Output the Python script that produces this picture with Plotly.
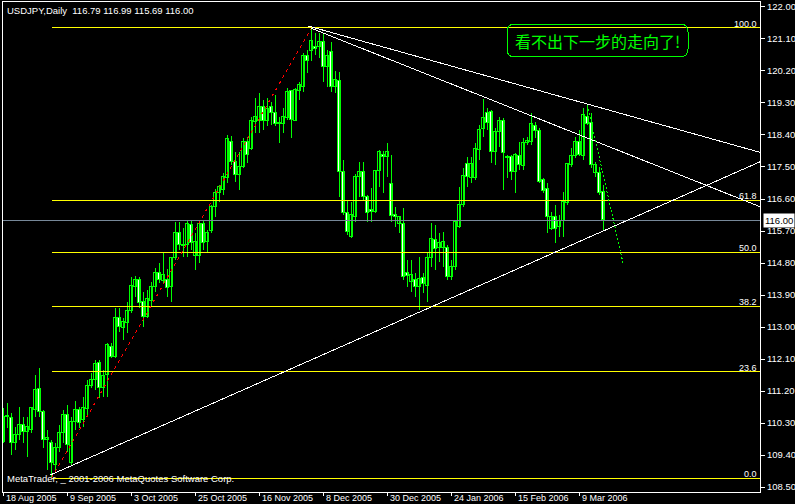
import plotly.graph_objects as go

# ---------------- data ----------------
bar_index = list(range(151))
opens = [109.77,110.47,110.44,109.74,109.96,110.24,110.05,110.10,110.67,111.26,
         110.61,109.82,109.74,109.12,109.60,110.02,110.53,109.18,110.33,110.67,
         110.39,110.69,111.34,111.51,111.99,111.29,111.65,112.44,112.16,113.25,
         112.97,113.11,113.45,114.13,114.32,113.70,113.28,113.73,114.13,114.52,
         114.30,114.32,114.13,114.94,115.64,115.31,115.31,115.87,115.00,115.00,
         115.90,115.39,115.70,116.38,116.77,116.86,117.19,118.20,117.64,117.28,
         117.50,118.20,118.01,118.77,118.79,119.19,118.79,119.19,119.02,118.71,
         118.71,118.88,119.64,118.79,119.64,119.75,120.62,120.76,120.88,120.88,
         121.02,120.31,120.73,119.75,119.92,117.36,116.21,115.53,116.10,117.22,
         117.36,116.66,116.29,116.24,117.39,117.84,117.78,117.02,116.15,115.90,
         115.90,114.52,114.27,114.32,114.13,114.38,114.15,114.94,115.45,115.22,
         115.22,115.22,114.41,114.69,115.81,116.43,117.59,117.19,117.19,117.98,
         118.57,119.02,119.05,117.92,118.49,118.79,117.78,117.78,117.36,117.81,
         117.53,118.18,118.20,118.65,118.51,117.14,116.88,115.76,116.10,115.81,
         115.98,116.49,117.56,117.81,118.20,117.81,118.91,118.74,117.33,117.33,
         116.79]
highs = [110.72,110.86,110.58,110.19,110.75,110.47,110.47,110.75,111.65,111.85,
         110.67,110.10,109.82,109.74,110.24,110.67,110.81,110.47,110.91,110.75,
         111.03,111.51,111.71,112.07,112.07,111.79,112.55,112.55,113.53,113.53,
         113.25,113.70,114.41,114.44,114.41,113.99,114.04,114.27,114.66,114.80,
         115.08,114.63,114.97,115.95,115.95,115.79,115.98,115.98,115.64,115.95,
         115.98,115.73,116.43,116.88,117.00,117.33,118.40,118.37,117.92,117.92,
         118.32,118.34,118.91,119.44,119.58,119.38,119.44,119.33,119.53,118.91,
         119.16,119.72,119.67,119.72,119.89,120.71,120.79,121.41,121.27,121.27,
         121.27,120.79,121.02,120.20,120.17,117.70,116.57,116.52,117.30,117.64,
         117.64,116.71,116.91,117.42,117.98,117.95,118.18,117.84,116.38,116.12,
         116.35,114.89,114.89,114.52,114.97,114.52,115.08,115.93,115.87,115.64,
         115.67,115.31,114.89,116.01,116.94,117.47,117.78,117.78,118.18,118.68,
         119.41,119.16,119.10,118.60,118.91,118.88,117.84,117.84,117.89,118.20,
         118.32,118.34,119.02,118.77,118.60,117.19,117.05,116.24,116.43,116.15,
         116.80,117.61,118.04,118.34,118.54,119.16,119.24,119.02,117.64,117.50,
         116.99]
lows = [109.74,110.16,109.40,109.54,109.82,109.74,109.35,110.02,110.47,110.47,
        109.60,108.98,108.75,108.98,109.49,109.74,109.49,109.12,110.10,110.16,
        110.19,110.47,111.29,111.23,111.00,111.03,111.03,112.13,112.13,112.86,
        112.64,112.83,113.39,113.85,113.53,113.00,113.25,113.56,113.99,114.24,
        114.24,113.85,113.70,114.89,115.17,114.97,114.97,115.17,114.60,114.80,
        115.17,115.08,115.64,116.10,116.52,116.71,117.05,117.56,117.08,116.85,
        117.47,117.61,117.98,118.46,118.46,118.54,118.65,118.68,118.65,118.18,
        118.46,118.82,118.32,118.79,119.38,119.61,120.14,120.48,120.65,120.57,
        119.89,119.75,119.61,119.58,116.66,116.15,115.59,115.50,115.95,116.66,
        116.57,115.95,115.95,116.21,116.94,116.77,117.22,115.95,115.81,115.64,
        114.32,114.13,113.99,113.85,113.48,113.96,113.70,114.69,114.60,114.83,
        114.69,114.32,114.32,114.60,115.79,116.38,116.94,117.05,117.14,117.70,
        118.35,118.54,117.61,117.56,118.06,116.85,117.19,117.14,116.77,117.42,
        117.42,118.12,118.12,118.32,117.05,116.77,115.64,115.73,115.36,115.53,
        115.53,116.43,117.50,117.75,117.80,117.70,118.68,117.47,117.22,116.71,
        115.69]
closes = [110.47,110.50,109.74,109.96,110.24,110.05,110.19,110.72,111.23,110.61,
          109.82,109.88,109.18,109.60,110.02,110.53,109.68,110.33,110.67,110.30,
          110.72,111.34,111.51,111.96,111.29,111.62,112.49,112.16,113.25,113.00,
          113.14,113.45,114.15,114.32,113.68,113.28,113.79,114.13,114.52,114.32,
          114.46,114.10,114.94,115.64,115.31,115.28,115.90,115.36,115.39,115.90,
          115.36,115.64,116.38,116.77,116.94,117.22,118.29,117.64,117.28,117.50,
          118.20,117.84,118.79,118.91,119.19,118.79,119.13,119.02,118.71,118.74,
          118.91,119.61,118.82,119.67,119.81,120.62,120.48,121.04,120.82,121.02,
          120.31,120.62,119.75,119.95,117.36,116.21,115.67,116.15,117.22,117.36,
          116.66,116.21,116.24,117.39,117.92,117.78,117.92,116.12,116.10,116.10,
          114.41,114.44,114.46,114.13,114.35,114.21,114.94,115.48,115.20,115.36,
          115.39,114.41,114.69,115.95,116.43,117.25,117.22,117.59,118.01,118.54,
          118.88,118.74,117.92,118.49,118.79,117.89,117.75,117.36,117.84,117.56,
          118.18,118.23,118.71,118.51,117.08,116.83,116.10,116.10,115.76,115.98,
          116.52,117.59,117.81,118.20,117.84,118.96,118.71,117.56,117.56,116.77,
          116.00]

date_tick_index = [0, 16, 32, 48, 64, 80, 96, 112, 128, 144]
date_tick_labels = ["18 Aug 2005", "9 Sep 2005", "3 Oct 2005", "25 Oct 2005",
                    "16 Nov 2005", "8 Dec 2005", "30 Dec 2005", "24 Jan 2006",
                    "15 Feb 2006", "9 Mar 2006"]
price_ticks = [122.00, 121.10, 120.20, 119.30, 118.40, 117.50, 116.60, 115.70,
               114.80, 113.90, 113.00, 112.10, 111.20, 110.30, 109.40, 108.50]

fib_start_index = 12
fib_labels = ["100.0", "61.8", "50.0", "38.2", "23.6", "0.0"]
fib_prices = [121.41, 116.57, 115.10, 113.59, 111.74, 108.75]

bid_price = 116.00

# drawn objects: (bar index, price) anchor pairs
fib_diag_x = [12, 77]
fib_diag_y = [108.75, 121.41]
trend_upper_x = [76, 189.2]
trend_upper_y = [121.47, 117.91]
trend_mid_x = [76.75, 189.2]
trend_mid_y = [121.41, 116.38]
trend_support_x = [11.75, 189.2]
trend_support_y = [108.84, 117.65]
projection_x = [146, 155]
projection_y = [119.24, 114.74]

title_text = "USDJPY,Daily  116.79 116.99 115.69 116.00"
copyright_text = "MetaTrader, _ 2001-2006 MetaQuotes Software Corp."
callout_text = "看不出下一步的走向了!"

X_RANGE = [-0.125, 189.125]
Y_RANGE = [108.36, 122.14]
LIME = "#00FF00"
FONT = "Liberation Sans"

# ---------------- figure ----------------
fig = go.Figure()

# wicks
wx, wy = [], []
for i, h, l in zip(bar_index, highs, lows):
    wx += [i, i, None]
    wy += [l, h, None]
fig.add_trace(go.Scatter(x=wx, y=wy, mode="lines",
                         line=dict(color=LIME, width=1), hoverinfo="skip"))

# bodies
base = [min(o, c) for o, c in zip(opens, closes)]
height = [max(abs(c - o), 0.02) for o, c in zip(opens, closes)]
fill = ["#000000" if c >= o else "#FFFFFF" for o, c in zip(opens, closes)]
fig.add_trace(go.Bar(x=bar_index, y=height, base=base, width=0.7,
                     marker=dict(color=fill, line=dict(color=LIME, width=1)),
                     hoverinfo="skip"))

# bid line
fig.add_trace(go.Scatter(x=X_RANGE, y=[bid_price, bid_price], mode="lines",
                         line=dict(color="#778899", width=1), hoverinfo="skip"))

# fib levels
for lvl in fib_prices:
    fig.add_trace(go.Scatter(x=[fib_start_index, X_RANGE[1]], y=[lvl, lvl],
                             mode="lines", line=dict(color="#FFFF00", width=1),
                             hoverinfo="skip"))
fig.add_trace(go.Scatter(x=fib_diag_x, y=fib_diag_y, mode="lines",
                         line=dict(color="#FF0000", width=1, dash="3px,4px"),
                         hoverinfo="skip"))

# trend lines
for tx, ty in [(trend_upper_x, trend_upper_y), (trend_mid_x, trend_mid_y),
               (trend_support_x, trend_support_y)]:
    fig.add_trace(go.Scatter(x=tx, y=ty, mode="lines",
                             line=dict(color="#FFFFFF", width=1), hoverinfo="skip"))
fig.add_trace(go.Scatter(x=projection_x, y=projection_y, mode="lines",
                         line=dict(color=LIME, width=1, dash="2px,2px"),
                         hoverinfo="skip"))

annotations = []
for lab, lvl in zip(fib_labels, fib_prices):
    annotations.append(dict(x=X_RANGE[1], y=lvl, xref="x", yref="y", text=lab,
                            showarrow=False, xanchor="right", yanchor="bottom",
                            xshift=-2, yshift=-2, borderpad=0,
                            font=dict(family=FONT, size=9, color="#FFFFFF")))
for idx, lab in zip(date_tick_index, date_tick_labels):
    annotations.append(dict(x=idx, y=0, xref="x", yref="paper", text=lab,
                            showarrow=False, xanchor="left", yanchor="top",
                            xshift=1, yshift=0, borderpad=0,
                            font=dict(family=FONT, size=9, color="#FFFFFF")))
annotations.append(dict(x=1, y=bid_price, xref="paper", yref="y", text="116.00",
                        showarrow=False, xanchor="left", yanchor="middle",
                        xshift=3, bgcolor="#FFFFFF", borderpad=1,
                        font=dict(family=FONT, size=9.5, color="#000000")))
annotations.append(dict(x=0, y=1, xref="paper", yref="paper", text=title_text,
                        showarrow=False, xanchor="left", yanchor="top",
                        xshift=3, yshift=-2, borderpad=0,
                        font=dict(family=FONT, size=9.5, color="#FFFFFF")))
annotations.append(dict(x=0, y=0, xref="paper", yref="paper", text=copyright_text,
                        showarrow=False, xanchor="left", yanchor="bottom",
                        xshift=3, yshift=7, borderpad=0,
                        font=dict(family=FONT, size=9.5, color="#FFFFFF")))
annotations.append(dict(x=0.785, y=0.9214, xref="paper", yref="paper",
                        text=callout_text, showarrow=False,
                        xanchor="center", yanchor="middle",
                        font=dict(family="Noto Sans CJK SC", size=16, color=LIME)))

callout_path = ("M 0.6764,0.9551 L 0.8943,0.9551 Q 0.9049,0.9551 0.9049,0.9388 "
                "L 0.9049,0.9041 Q 0.9049,0.8878 0.8943,0.8878 L 0.6764,0.8878 "
                "Q 0.6658,0.8878 0.6658,0.9041 L 0.6658,0.9388 "
                "Q 0.6658,0.9551 0.6764,0.9551 Z")

fig.update_layout(
    width=795, height=504,
    margin=dict(l=3, r=35, t=2, b=12, autoexpand=False),
    paper_bgcolor="#000000", plot_bgcolor="#000000",
    showlegend=False, barmode="overlay", bargap=0,
    annotations=annotations,
    shapes=[dict(type="path", xref="paper", yref="paper", path=callout_path,
                 line=dict(color=LIME, width=1), fillcolor="rgba(0,0,0,0)")],
    xaxis=dict(range=X_RANGE, showgrid=False, zeroline=False,
               showline=True, mirror=True, linecolor="#FFFFFF", linewidth=1,
               tickvals=date_tick_index, ticktext=[""] * len(date_tick_index),
               ticks="outside", ticklen=3, tickcolor="#FFFFFF"),
    yaxis=dict(range=Y_RANGE, side="right", showgrid=False, zeroline=False,
               showline=True, mirror=True, linecolor="#FFFFFF", linewidth=1,
               tickvals=price_ticks, ticktext=[f"{v:.2f}" for v in price_ticks],
               ticks="outside", ticklen=4, tickcolor="#FFFFFF",
               tickfont=dict(family=FONT, size=9.5, color="#FFFFFF")),
)

post = ("document.body.style.margin='0px';"
        "document.body.style.background='#000000';"
        "var s=document.createElement('style');"
        "s.innerHTML='.main-svg path{shape-rendering:crispEdges;}';"
        "document.head.appendChild(s);")
fig.write_html("out.html", post_script=post, config={"displayModeBar": False})
